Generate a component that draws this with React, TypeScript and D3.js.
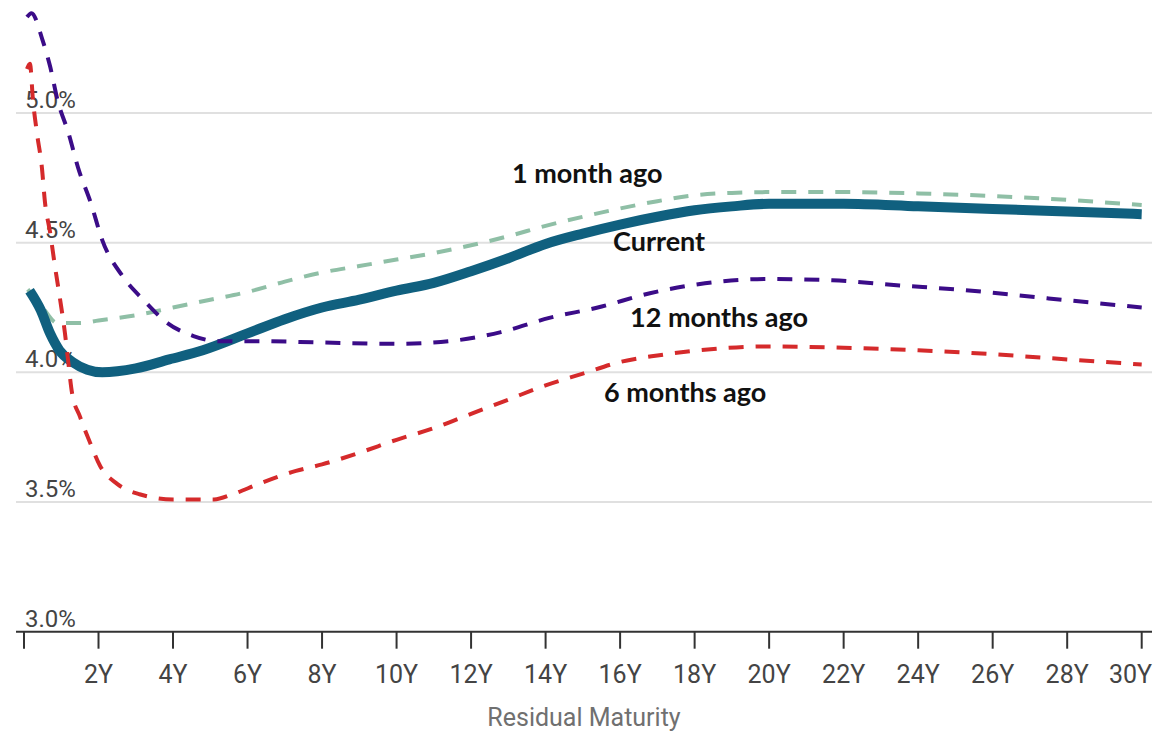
import React from "react";
import * as d3 from "d3";

// Yield curves: [residual maturity in years, yield in %]
const currentCurve: [number, number][] = [
  [0.15, 4.315], [0.45, 4.24], [0.7, 4.15], [0.95, 4.085], [1.3, 4.04], [1.7, 4.01],
  [2.1, 4.0], [3.0, 4.015], [3.9, 4.05], [4.8, 4.085], [6, 4.15], [7, 4.205],
  [8, 4.25], [9, 4.28], [10, 4.315], [11, 4.345], [12, 4.39], [13, 4.44],
  [14, 4.495], [15, 4.535], [16, 4.57], [17, 4.6], [18, 4.625], [19, 4.64],
  [20, 4.65], [22, 4.65], [24, 4.64], [26, 4.63], [28, 4.62], [30, 4.61],
];

const oneMonthAgo: [number, number][] = [
  [0.1, 4.32], [0.45, 4.26], [0.9, 4.19], [1.5, 4.19], [2, 4.2], [3, 4.22],
  [4, 4.25], [5, 4.28], [6, 4.31], [7, 4.35], [8, 4.385], [9, 4.41],
  [10, 4.435], [11, 4.46], [12, 4.49], [13, 4.525], [14, 4.565], [15, 4.6],
  [16, 4.632], [17, 4.66], [18, 4.683], [19, 4.692], [20, 4.695], [22, 4.695],
  [24, 4.69], [26, 4.68], [28, 4.665], [30, 4.645],
];

const sixMonthsAgo: [number, number][] = [
  [0.08, 5.17], [0.16, 5.19], [0.24, 5.05], [0.35, 4.92], [0.48, 4.79],
  [0.56, 4.66], [0.7, 4.54], [0.83, 4.41], [0.97, 4.28], [1.1, 4.15],
  [1.18, 4.05], [1.29, 3.92], [1.5, 3.83], [1.77, 3.73], [2.04, 3.64],
  [2.5, 3.57], [3.1, 3.53], [4, 3.51], [5.1, 3.51], [5.6, 3.53], [6.3, 3.57],
  [7.3, 3.62], [8, 3.645], [9, 3.69], [10, 3.74], [11, 3.785], [12, 3.84],
  [13, 3.895], [14, 3.95], [15, 3.995], [16, 4.04], [17, 4.065], [18, 4.083],
  [20, 4.1], [22, 4.095], [24, 4.085], [26, 4.07], [28, 4.05], [30, 4.03],
];

const twelveMonthsAgo: [number, number][] = [
  [0.08, 5.37], [0.2, 5.385], [0.5, 5.28], [0.7, 5.18], [0.9, 5.05], [1.2, 4.92],
  [1.45, 4.79], [1.8, 4.65], [2.1, 4.51], [2.65, 4.37], [3.2, 4.28], [3.85, 4.19],
  [4.55, 4.14], [5.2, 4.12], [6.3, 4.12], [8, 4.115], [10, 4.11], [11.4, 4.12],
  [12.8, 4.155], [14.1, 4.21], [15.4, 4.25], [16.8, 4.305], [18.1, 4.34],
  [20, 4.36], [21.7, 4.355], [23.5, 4.335], [25, 4.32], [27.5, 4.285], [30, 4.25],
];

const yTicks = [3.0, 3.5, 4.0, 4.5, 5.0];
const xTicks = d3.range(0, 31, 2);

const seriesNames = ["1 month ago", "Current", "12 months ago", "6 months ago"];

const W = 1163;
const H = 731;

export default function App() {
  const x = d3.scaleLinear().domain([0, 30]).range([24, 1141.7]);
  const y = d3.scaleLinear().domain([3, 5]).range([631.7, 113]);
  const line = d3
    .line<[number, number]>()
    .x((d) => x(d[0]))
    .y((d) => y(d[1]))
    .curve(d3.curveMonotoneX);

  const axisFont = "Roboto, 'Noto Sans', sans-serif";
  const labelFont = "Lato, 'Open Sans', sans-serif";

  const series = [
    { name: seriesNames[0], data: oneMonthAgo, color: "#8fbfa6", width: 4, dash: "15 12", lx: 512, ly: 183 },
    { name: seriesNames[1], data: currentCurve, color: "#10607f", width: 10, dash: null, lx: 613, ly: 251 },
    { name: seriesNames[2], data: twelveMonthsAgo, color: "#3b0c88", width: 4, dash: "15 12", lx: 630, ly: 327 },
    { name: seriesNames[3], data: sixMonthsAgo, color: "#d52a2b", width: 4, dash: "15 12", lx: 604, ly: 402 },
  ];

  const lastTick = xTicks[xTicks.length - 1];

  return (
    <svg
      width={W}
      height={H}
      style={{ position: "absolute", left: 0, top: 0, background: "#fff" }}
    >
      {/* gridlines */}
      {yTicks.slice(1).map((t) => (
        <line key={t} x1={16} x2={1152} y1={y(t)} y2={y(t)} stroke="#e0e0e0" strokeWidth={2} />
      ))}
      {/* y labels */}
      {yTicks.map((t) => (
        <text
          key={t}
          x={25}
          y={y(t) - 5}
          fontFamily={axisFont}
          fontSize={24}
          fill="#444"
        >
          {t.toFixed(1)}%
        </text>
      ))}
      {/* x axis */}
      <line x1={16} x2={1152} y1={y(3)} y2={y(3)} stroke="#333" strokeWidth={2} />
      {xTicks.map((t) => (
        <g key={t}>
          <line x1={x(t)} x2={x(t)} y1={y(3)} y2={y(3) + 17} stroke="#333" strokeWidth={2} />
          {t > 0 && (
            <text
              x={t === lastTick ? 1152 : x(t)}
              y={683}
              textAnchor={t === lastTick ? "end" : "middle"}
              fontFamily={axisFont}
              fontSize={25}
              fill="#444"
            >
              {t}Y
            </text>
          )}
        </g>
      ))}
      <text
        x={584}
        y={726}
        textAnchor="middle"
        fontFamily={axisFont}
        fontSize={25}
        fill="#707070"
      >
        Residual Maturity
      </text>
      {/* curves */}
      {series.map((s) => (
        <path
          key={s.name}
          d={line(s.data) || ""}
          fill="none"
          stroke={s.color}
          strokeWidth={s.width}
          strokeDasharray={s.dash || undefined}
          strokeLinejoin="round"
        />
      ))}
      {/* series labels */}
      {series.map((s) => (
        <text
          key={"l" + s.name}
          x={s.lx}
          y={s.ly}
          fontFamily={labelFont}
          fontWeight={700}
          fontSize={27}
          fill="#111"
        >
          {s.name}
        </text>
      ))}
    </svg>
  );
}
